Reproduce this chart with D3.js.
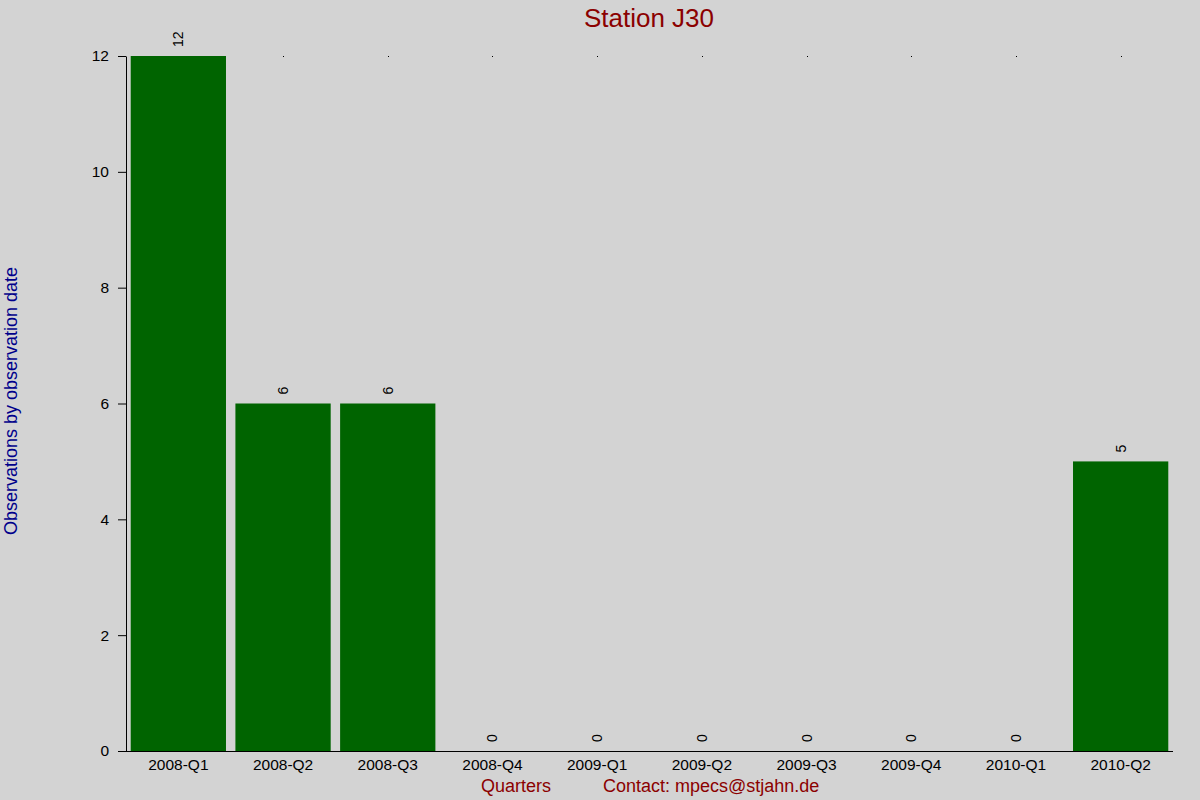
<!DOCTYPE html>
<html><head><meta charset="utf-8">
<script src="https://cdn.jsdelivr.net/npm/d3@7/dist/d3.min.js"></script>
<style>
html,body{margin:0;padding:0;background:#d3d3d3;}
svg{display:block;font-family:"Liberation Sans",Arial,sans-serif;}
</style></head>
<body>
<svg id="chart" width="1200" height="800"></svg>
<script>
const categories = ["2008-Q1","2008-Q2","2008-Q3","2008-Q4","2009-Q1","2009-Q2","2009-Q3","2009-Q4","2010-Q1","2010-Q2"];
const values = [12,6,6,0,0,0,0,0,0,5];
const yTicks = [0,2,4,6,8,10,12];
const titleText = "Station J30";
const yLabelText = "Observations by observation date";
const xLabelText = "Quarters";
const contactText = "Contact: mpecs@stjahn.de";

(function(){
const svg = d3.select("#chart");
svg.append("rect").attr("width",1200).attr("height",800).attr("fill","#d3d3d3");

const mLeft = 126, mRight = 1173, mTop = 56, mBottom = 751;
const x = d3.scaleBand().domain(categories).range([mLeft, mRight]).paddingInner(0.09).paddingOuter(0.045);
const y = d3.scaleLinear().domain([0, 12]).range([mBottom, mTop]);

// tiny markers at top of each band
svg.selectAll("rect.dot").data(categories).join("rect")
  .attr("class","dot")
  .attr("x",d=>Math.round(x(d)+x.bandwidth()/2))
  .attr("y",y(12))
  .attr("width",1).attr("height",1)
  .attr("fill","#000");

// bars
svg.selectAll("rect.bar").data(values).join("rect")
  .attr("class","bar")
  .attr("x",(d,i)=>x(categories[i]))
  .attr("width",x.bandwidth())
  .attr("y",d=>y(d))
  .attr("height",d=>y(0)-y(d))
  .attr("fill","#006400");

// value labels
svg.selectAll("text.val").data(values).join("text")
  .attr("class","val")
  .attr("transform",(d,i)=>`translate(${x(categories[i])+x.bandwidth()/2+5},${y(d)-9}) rotate(-90)`)
  .attr("text-anchor","start")
  .attr("font-size",14)
  .attr("fill","#000")
  .text(d=>d);

// y axis
const yAxis = d3.axisLeft(y).tickValues(yTicks).tickSize(8).tickPadding(9).tickSizeOuter(0);
const gy = svg.append("g").attr("transform",`translate(${mLeft},0)`).call(yAxis);
gy.select(".domain").attr("stroke","#000");
gy.selectAll(".tick line").attr("stroke","#000");
gy.selectAll(".tick text").attr("font-size",15.5).attr("font-family","Liberation Sans, Arial, sans-serif").attr("fill","#000");

// x axis
const xAxis = d3.axisBottom(x).tickSize(0).tickPadding(8).tickSizeOuter(0);
const gx = svg.append("g").attr("transform",`translate(0,${mBottom})`).call(xAxis);
gx.select(".domain").attr("d",`M${mLeft-8},0.5H${mRight}`).attr("stroke","#000");
gx.selectAll(".tick text").attr("font-size",15.5).attr("font-family","Liberation Sans, Arial, sans-serif").attr("fill","#000");

// title
svg.append("text").attr("x",649).attr("y",27).attr("text-anchor","middle")
  .attr("font-size",26).attr("fill","#8b0000").text(titleText);

// y label
svg.append("text").attr("transform","translate(17,401) rotate(-90)").attr("text-anchor","middle")
  .attr("font-size",18).attr("fill","#00008b").text(yLabelText);

// x label & contact
svg.append("text").attr("x",481).attr("y",792).attr("font-size",18).attr("fill","#8b0000").text(xLabelText);
svg.append("text").attr("x",603).attr("y",792).attr("font-size",18).attr("fill","#8b0000").text(contactText);
})();
</script>
</body></html>
